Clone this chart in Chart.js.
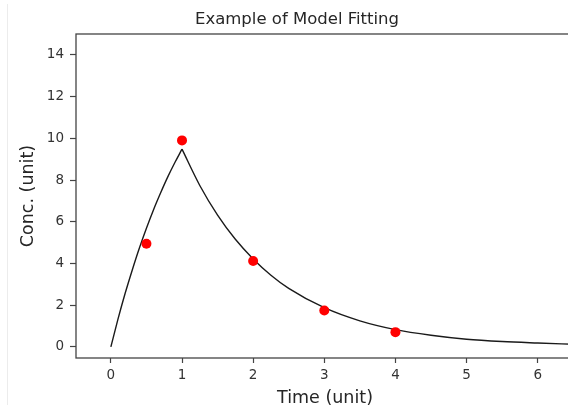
<!DOCTYPE html>
<html>
<head>
<meta charset="utf-8">
<script src="https://cdn.jsdelivr.net/npm/chart.js@4/dist/chart.umd.min.js"></script>
<style>
  html, body { margin: 0; padding: 0; background: #fff; overflow: hidden; }
  #wrap { width: 568px; height: 409px; overflow: hidden; }
</style>
</head>
<body>
<div id="wrap"><canvas id="fitChart" width="594" height="409"></canvas></div>
<script>
// observed data (red dots)
const obsTime = [0.5, 1, 2, 3, 4];
const obsConc = [4.95, 9.9, 4.12, 1.75, 0.71];

// fitted model curve: rising part and falling part
const riseTime = [0, 0.1, 0.2, 0.3, 0.4, 0.5, 0.6, 0.7, 0.8, 0.9, 1];
const riseConc = [0, 1.33, 2.56, 3.68, 4.73, 5.69, 6.58, 7.39, 8.15, 8.84, 9.48];
const fallTime = [1, 1.25, 1.5, 1.75, 2, 2.25, 2.5, 3, 3.5, 4, 4.5, 5, 5.5, 6, 6.5];
const fallConc = [9.48, 7.74, 6.32, 5.16, 4.22, 3.44, 2.81, 1.88, 1.25, 0.83, 0.56, 0.37, 0.26, 0.19, 0.13];

const xTicks = [0, 1, 2, 3, 4, 5, 6];
const yTicks = [0, 2, 4, 6, 8, 10, 12, 14];

const toPts = (xs, ys) => xs.map((x, i) => ({x: x, y: ys[i]}));

const FONT = "'DejaVu Sans', sans-serif";

// frame round the axes + faint crop line on the far left
const framePlugin = {
    id: 'frame',
    beforeDraw(chart) {
        const ctx = chart.ctx;
        ctx.save();
        ctx.strokeStyle = '#ececec';
        ctx.lineWidth = 1;
        ctx.beginPath();
        ctx.moveTo(7.5, 4);
        ctx.lineTo(7.5, 405);
        ctx.stroke();
        ctx.restore();
    },
    afterDraw(chart) {
        const a = chart.chartArea;
        const ctx = chart.ctx;
        ctx.save();
        ctx.strokeStyle = '#444';
        ctx.lineWidth = 1.3;
        ctx.strokeRect(a.left, a.top, a.right - a.left, a.bottom - a.top);
        ctx.restore();
    }
};

new Chart(document.getElementById("fitChart"), {
    type: "scatter",
    data: {
        datasets: [
            {
                data: toPts(riseTime, riseConc),
                showLine: true,
                borderColor: "#1a1a1a",
                borderWidth: 1.4,
                pointRadius: 0,
                cubicInterpolationMode: "monotone",
                order: 2
            },
            {
                data: toPts(fallTime, fallConc),
                showLine: true,
                borderColor: "#1a1a1a",
                borderWidth: 1.4,
                pointRadius: 0,
                cubicInterpolationMode: "monotone",
                order: 2
            },
            {
                data: toPts(obsTime, obsConc),
                showLine: false,
                backgroundColor: "#ff0000",
                borderWidth: 0,
                pointRadius: 5,
                order: 1
            }
        ]
    },
    options: {
        responsive: false,
        animation: false,
        layout: { padding: { left: 20, right: 20, top: 0, bottom: 0 } },
        plugins: {
            legend: { display: false },
            tooltip: { enabled: false },
            title: {
                display: true,
                text: "Example of Model Fitting",
                color: "#262626",
                font: { family: FONT, size: 16.5, weight: "normal", lineHeight: 1.2 },
                padding: { top: 10, bottom: 4.2 }
            }
        },
        scales: {
            x: {
                type: "linear",
                min: -0.49,
                max: 6.51,
                afterBuildTicks: s => { s.ticks = xTicks.map(v => ({value: v})); },
                afterFit: s => { s.height = 51; },
                grid: { drawOnChartArea: false, tickLength: 5, tickColor: "#444", tickWidth: 1.2 },
                border: { display: false },
                ticks: { color: "#333", font: { family: FONT, size: 13.5 }, padding: 4 },
                title: {
                    display: true,
                    text: "Time (unit)",
                    color: "#262626",
                    font: { family: FONT, size: 17.5, lineHeight: 1.2 },
                    padding: { top: 0, bottom: 0 }
                }
            },
            y: {
                type: "linear",
                min: -0.53,
                max: 15.0,
                afterBuildTicks: s => { s.ticks = yTicks.map(v => ({value: v})); },
                afterFit: s => { s.width = 56; },
                grid: { drawOnChartArea: false, tickLength: 6, tickColor: "#444", tickWidth: 1.2 },
                border: { display: false },
                ticks: { color: "#333", font: { family: FONT, size: 13.5 }, padding: 6 },
                title: {
                    display: true,
                    text: "Conc. (unit)",
                    color: "#262626",
                    font: { family: FONT, size: 17.5, lineHeight: 1 },
                    padding: { top: 0, bottom: 0 }
                }
            }
        }
    },
    plugins: [framePlugin]
});
</script>
</body>
</html>
